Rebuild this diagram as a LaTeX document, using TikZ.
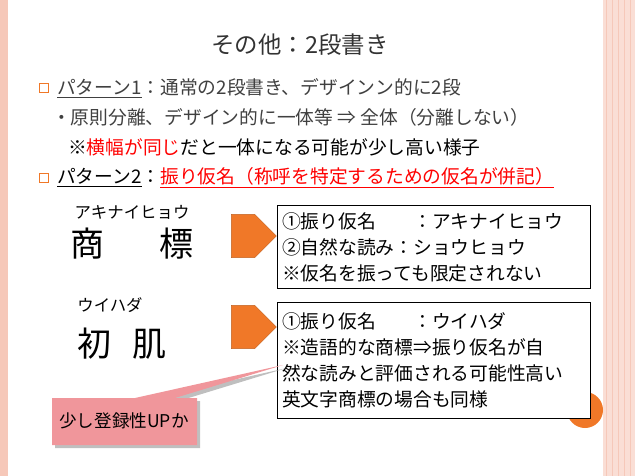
\documentclass[tikz,border=0pt]{standalone}
\usepackage{fontspec}
\setmainfont{Noto Sans CJK JP}
\usetikzlibrary{shapes, arrows, positioning, shadows}
\definecolor{slidepink}{RGB}{246,200,185}
\definecolor{bulletorange}{RGB}{240,120,40}
\definecolor{calloutpink}{RGB}{240,150,155}

\begin{document}
\begin{tikzpicture}[x=0.03cm, y=-0.03cm,
        line/.style={anchor=west, font=\fontsize{16}{18}\selectfont, inner sep=0pt},
        bullet/.style={draw=bulletorange, thick, minimum size=7pt, inner sep=0pt},
        infobox/.style={draw, thick, align=left, anchor=north west, font=\fontsize{16}{22}\selectfont, inner sep=4pt, text width=9.1cm},
        bigarrow/.style={single arrow, draw=bulletorange!80!black, fill=bulletorange, minimum width=1.3cm, single arrow head extend=0pt, minimum height=1.35cm, inner sep=0pt}
    ]
        \useasboundingbox (0,0) rectangle (635,476);
        % Frame
        \fill[slidepink] (0,0) rectangle (8,476);
        \fill[slidepink!60] (603,0) rectangle (635,476);
        \foreach \xs in {606,612,618,624,630}
            \draw[slidepink] (\xs,0) -- (\xs,476);

        % Title
        \node[font=\fontsize{20}{22}\selectfont, text=black!80] (title) at (300,45) {その他：2段書き};

        % Bullets
        \node[bullet] (b1) at (44,88) {};
        \node[line, text=black!75] (l1) at (57,88) {\underline{\itshape パターン1}：通常の2段書き、デザインン的に2段};
        \node[line, text=black!75] (l2) at (52,117) {・原則分離、デザイン的に一体等 ⇒ 全体（分離しない）};
        \node[line] (l3) at (68,147) {※\textcolor{red}{横幅が同じ}だと一体になる可能が少し高い様子};
        \node[bullet] (b2) at (44,178) {};
        \node[line] (l4) at (57,178) {\underline{\itshape パターン2}：\textcolor{red}{\underline{振り仮名（称呼を特定するための仮名が併記）}}};

        % Mark 1
        \node[font=\fontsize{14}{15}\selectfont] (kana1) at (132,212) {アキナイヒョウ};
        \node[font=\fontsize{29}{30}\selectfont] (mark1) at (132,244) {商\hspace{1.6em}標};
        \node[bigarrow] (arr1) at (243,236) {};
        \node[infobox, minimum height=2.5cm] (box1) at (277,205) {①振り仮名\hspace{2em}：アキナイヒョウ\\②自然な読み：ショウヒョウ\\※仮名を振っても限定されない};

        % Mark 2
        \node[font=\fontsize{14}{15}\selectfont] (kana2) at (110,305) {ウイハダ};
        \node[font=\fontsize{29}{30}\selectfont] (mark2) at (122,344) {初\hspace{0.6em}肌};
        \node[bigarrow] (arr2) at (243,327) {};
        \fill[bulletorange] (585,410) circle (18);
        \node[infobox, fill=white, minimum height=3.48cm] (box2) at (277,302) {①振り仮名\hspace{2em}：ウイハダ\\※造語的な商標⇒振り仮名が自\\然な読みと評価される可能性高い\\英文字商標の場合も同様};

        % Callout
        \coordinate (tip) at (283,365);
        \fill[calloutpink, drop shadow] (52,398) -- (135,398) -- (tip) -- (175,398) -- (197,398) -- (197,445) -- (52,445) -- cycle;
        \node[font=\fontsize{15}{16}\selectfont] (note) at (124,421) {少し登録性UPか};
    \end{tikzpicture}
\end{document}
